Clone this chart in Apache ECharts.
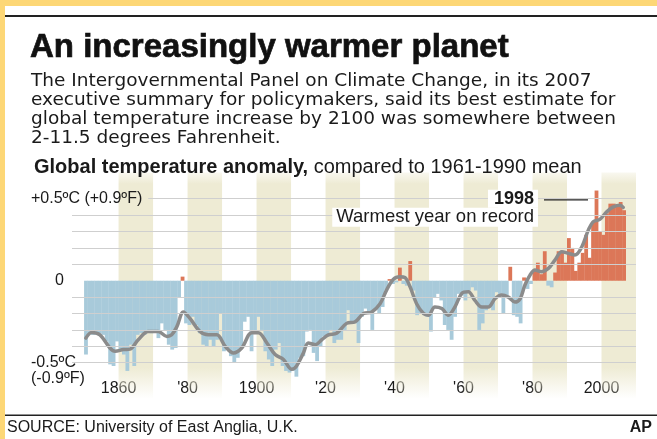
<!DOCTYPE html>
<html>
<head>
<meta charset="utf-8">
<script src="https://cdn.jsdelivr.net/npm/echarts@6/dist/echarts.min.js"></script>
<style>
  html, body { margin: 0; padding: 0; background: #ffffff; }
  #chart { width: 657px; height: 439px; }
</style>
</head>
<body>
<div id="chart"></div>
<script>
// Annual global temperature anomaly (°C vs 1961-1990 mean), one value per year from FIRST_YEAR
const FIRST_YEAR = 1850;
const anomalies = [
  -0.45, -0.32, -0.33, -0.33, -0.32, -0.33, -0.37, -0.51, -0.52, -0.37, // 1850s
  -0.43, -0.45, -0.55, -0.39, -0.52, -0.33, -0.32, -0.33, -0.31, -0.32, // 1860s
  -0.31, -0.35, -0.26, -0.30, -0.39, -0.42, -0.41, -0.10, 0.025, -0.26, // 1870s
  -0.27, -0.22, -0.27, -0.32, -0.39, -0.40, -0.36, -0.40, -0.36, -0.20, // 1880s
  -0.43, -0.42, -0.46, -0.50, -0.47, -0.41, -0.25, -0.22, -0.43, -0.32, // 1890s
  -0.22, -0.30, -0.43, -0.48, -0.52, -0.42, -0.38, -0.52, -0.55, -0.56, // 1900s
  -0.55, -0.585, -0.47, -0.46, -0.31, -0.30, -0.44, -0.49, -0.40, -0.34, // 1910s
  -0.34, -0.30, -0.38, -0.36, -0.36, -0.30, -0.18, -0.26, -0.26, -0.38, // 1920s
  -0.22, -0.17, -0.20, -0.30, -0.17, -0.20, -0.16, -0.06, 0.01, -0.02, // 1930s
  -0.01, 0.08, -0.02, -0.03, 0.12, -0.06, -0.21, -0.20, -0.21, -0.22, // 1940s
  -0.31, -0.10, -0.08, -0.12, -0.27, -0.30, -0.36, -0.22, -0.08, -0.09, // 1950s
  -0.12, -0.06, -0.04, -0.06, -0.30, -0.26, -0.18, -0.16, -0.18, -0.07, // 1960s
  -0.08, -0.20, -0.09, 0.085, -0.21, -0.22, -0.26, 0.02, -0.05, -0.02, // 1970s
  0.06, 0.11, 0.04, 0.18, -0.03, -0.04, 0.05, 0.18, 0.18, 0.11,      // 1980s
  0.26, 0.20, 0.06, 0.11, 0.17, 0.28, 0.14, 0.36, 0.55, 0.30,        // 1990s
  0.28, 0.41, 0.47, 0.47, 0.45, 0.48, 0.43                            // 2000s
];

// Smoothed trend curve
const smoothYears = [
  1850.5, 1852.2, 1854.6, 1857.5, 1859.0, 1861.4, 1863.3, 1865.7, 1868.6, 1871.5,
  1874.0, 1875.4, 1876.9, 1878.8, 1880.7, 1883.6, 1886.0, 1888.5, 1890.9, 1893.3,
  1895.7, 1898.6, 1900.5, 1903.0, 1905.4, 1907.8, 1910.2, 1911.6, 1913.6, 1915.0,
  1917.0, 1918.9, 1920.8, 1923.2, 1926.1, 1928.6, 1931.0, 1933.4, 1935.8, 1937.7,
  1939.6, 1941.6, 1943.0, 1944.5, 1946.4, 1948.4, 1949.8, 1951.7, 1953.7, 1955.6,
  1957.5, 1959.5, 1961.4, 1963.3, 1965.3, 1967.2, 1969.1, 1971.0, 1973.0, 1974.9,
  1976.4, 1977.8, 1979.3, 1980.7, 1982.6, 1984.6, 1986.5, 1988.5, 1990.4, 1992.3,
  1994.3, 1996.2, 1997.6, 1999.5, 2001.5, 2003.4, 2005.4, 2006.3
];
const smoothValues = [
  -0.35, -0.315, -0.33, -0.41, -0.43, -0.42, -0.417, -0.36, -0.31, -0.31,
  -0.34, -0.33, -0.28, -0.19, -0.23, -0.31, -0.33, -0.33, -0.40, -0.44,
  -0.41, -0.317, -0.317, -0.38, -0.45, -0.48, -0.54, -0.52, -0.44, -0.38,
  -0.39, -0.36, -0.33, -0.32, -0.26, -0.25, -0.20, -0.19, -0.14, -0.057,
  0.008, 0.024, 0.02, -0.037, -0.14, -0.20, -0.21, -0.16, -0.17, -0.21,
  -0.16, -0.077, -0.067, -0.12, -0.16, -0.16, -0.11, -0.087, -0.10, -0.13,
  -0.11, -0.026, 0.035, 0.065, 0.055, 0.075, 0.126, 0.177, 0.167, 0.157,
  0.207, 0.31, 0.36, 0.374, 0.42, 0.45, 0.46, 0.447
];

// Shaded alternate decades
const decadeBands = [[1860, 1870], [1880, 1890], [1900, 1910], [1920, 1930],
                     [1940, 1950], [1960, 1970], [1980, 1990], [2000, 2010]];

// Axis ticks and labels
const xTickYears = [1860, 1880, 1900, 1920, 1940, 1960, 1980, 2000];
const xTickLabels = ['1860', "'80", '1900', "'20", "'40", "'60", "'80", '2000'];
const gridValues = [-0.5, -0.4, -0.3, -0.2, -0.1, 0.1, 0.2, 0.3, 0.4, 0.5];
const yLabelValues = [0.5, 0, -0.5];
const yLabelTexts = ['+0.5ºC (+0.9ºF)', '0', '-0.5ºC\n(-0.9ºF)'];

const X_MIN = 1846.5, X_MAX = 2010;
const Y_MIN = -0.72, Y_MAX = 0.66;

const BLUE = '#a8cada';
const ORANGE = '#dc7758';
const BAND = '#eeebd4';
const GRID = '#cfcfcf';
const SANS = '"Liberation Sans", Arial, Helvetica, sans-serif';

const chart = echarts.init(document.getElementById('chart'), null, { renderer: 'canvas' });

const barData = anomalies.map((v, i) => [FIRST_YEAR + i, v]);
const smoothData = smoothYears.map((y, i) => [y, smoothValues[i]]);

const bandGradient = new echarts.graphic.LinearGradient(0, 0, 0, 1, [
  { offset: 0, color: 'rgba(238,235,212,0.35)' },
  { offset: 0.05, color: BAND },
  { offset: 0.86, color: BAND },
  { offset: 1, color: 'rgba(238,235,212,0)' }
]);

const option = {
  backgroundColor: '#ffffff',
  animation: false,
  grid: { left: 72, right: 21, top: 172.5, height: 226.3, containLabel: false },
  xAxis: {
    type: 'value', min: X_MIN, max: X_MAX,
    axisLine: { show: false }, axisTick: { show: false }, splitLine: { show: false },
    axisLabel: {
      customValues: xTickYears,
      margin: -10,
      verticalAlign: 'middle',
      color: '#1a1a1a',
      fontFamily: SANS,
      fontSize: 16,
      formatter: v => xTickLabels[xTickYears.indexOf(v)]
    }
  },
  yAxis: {
    type: 'value', min: Y_MIN, max: Y_MAX,
    axisLine: { show: false }, axisTick: { show: false },
    axisLabel: { show: false }, splitLine: { show: false }
  },
  series: [
    {
      // decade shading and light grid lines
      type: 'line', data: [], z: 1, silent: true,
      markArea: {
        silent: true,
        itemStyle: { color: bandGradient },
        data: decadeBands.map(b => [{ coord: [b[0], Y_MAX] }, { coord: [b[1], Y_MIN] }])
      },
      markLine: {
        silent: true, symbol: 'none',
        label: { show: false },
        lineStyle: { color: GRID, width: 1, type: 'solid' },
        data: gridValues.map(v => [
          { coord: [v === 0.5 ? 1868.6 : X_MIN, v] },
          { coord: [X_MAX, v] }
        ])
      }
    },
    {
      // annual anomaly bars
      type: 'custom', z: 2, silent: true,
      data: barData,
      renderItem: function (params, api) {
        const yr = api.value(0), v = api.value(1);
        const p0 = api.coord([yr, 0]);
        const p1 = api.coord([yr + 1, v]);
        return {
          type: 'rect',
          shape: {
            x: p0[0], y: Math.min(p0[1], p1[1]),
            width: p1[0] - p0[0] + 0.35, height: Math.abs(p1[1] - p0[1])
          },
          style: { fill: v >= 0 ? ORANGE : BLUE }
        };
      }
    },
    {
      // zero baseline
      type: 'line', data: [], z: 3, silent: true,
      markLine: {
        silent: true, symbol: 'none', label: { show: false },
        lineStyle: { color: '#111111', width: 1.3, type: 'solid' },
        data: [[{ coord: [X_MIN - 0.6, 0] }, { coord: [X_MAX + 0.5, 0] }]]
      }
    },
    {
      // smoothed trend
      type: 'line', z: 4, silent: true,
      data: smoothData, smooth: 0.35, showSymbol: false, symbol: 'none',
      lineStyle: { color: '#8b8b8b', width: 3.5, cap: 'round', join: 'round' }
    }
  ]
};
chart.setOption(option);

// Text, rules and frame
const yPix = v => chart.convertToPixel({ yAxisIndex: 0 }, v);
const textStyle = (extra) => Object.assign({ fill: '#1a1a1a', fontFamily: SANS, fontSize: 16, verticalAlign: 'middle' }, extra);
const TOP_Z = 100;

const graphics = [
  { type: 'rect', shape: { x: 0, y: 0, width: 657, height: 6 }, style: { fill: '#fdd776' }, silent: true },
  { type: 'rect', shape: { x: 0, y: 0, width: 5, height: 439 }, style: { fill: '#fdd776' }, silent: true },
  { type: 'rect', shape: { x: 5, y: 15, width: 652, height: 2 }, style: { fill: '#222222' }, silent: true },
  { type: 'rect', shape: { x: 5, y: 414.5, width: 652, height: 1.5 }, style: { fill: '#222222' }, silent: true },
  {
    type: 'text', x: 30, y: 48, silent: true, z: TOP_Z,
    style: textStyle({ text: 'An increasingly warmer planet', fontFamily: SANS, fontWeight: 'bold', fontSize: 33, fill: '#111111', stroke: '#111111', lineWidth: 0.7 })
  },
  {
    type: 'text', x: 31, y: 72, silent: true, z: TOP_Z,
    style: textStyle({
      text: 'The Intergovernmental Panel on Climate Change, in its 2007\nexecutive summary for policymakers, said its best estimate for\nglobal temperature increase by 2100 was somewhere between\n2-11.5 degrees Fahrenheit.',
      fontFamily: '"DejaVu Sans", Verdana, sans-serif', fontSize: 18.5, lineHeight: 19, verticalAlign: 'top'
    })
  },
  {
    type: 'text', x: 34, y: 167, silent: true, z: TOP_Z,
    style: textStyle({
      text: '{b|Global temperature anomaly,} compared to 1961-1990 mean',
      fontSize: 20,
      rich: { b: { fontWeight: 'bold', fontFamily: SANS, fontSize: 20, fill: '#1a1a1a' } }
    })
  },
  // 1998 callout
  {
    type: 'text', x: 538, y: yPix(0.5), silent: true, z: TOP_Z,
    style: textStyle({ text: '1998', fontWeight: 'bold', fontSize: 18, align: 'right', backgroundColor: '#ffffff', padding: [0, 4, 0, 6] })
  },
  { type: 'rect', z: TOP_Z, shape: { x: 544, y: yPix(0.5) + 0.5, width: 44, height: 1.2 }, style: { fill: '#222222' }, silent: true },
  {
    type: 'text', x: 538, y: yPix(0.4) + 2, silent: true, z: TOP_Z,
    style: textStyle({ text: 'Warmest year on record', fontSize: 18.5, align: 'right', backgroundColor: '#ffffff', padding: [0, 4, 0, 4] })
  },
  // source line
  { type: 'text', x: 7, y: 428, silent: true, z: TOP_Z, style: textStyle({ text: 'SOURCE: University of East Anglia, U.K.', fontSize: 16 }) },
  { type: 'text', x: 652, y: 428, silent: true, z: TOP_Z, style: textStyle({ text: 'AP', fontSize: 16, align: 'right', fontWeight: 'bold' }) }
];

// Y-axis labels placed at their values on the axis scale
yLabelValues.forEach((v, i) => {
  const y = yPix(v);
  if (v > 0) {
    graphics.push({ type: 'text', x: 31, y: y, silent: true, z: TOP_Z, style: textStyle({ text: yLabelTexts[i] }) });
  } else if (v === 0) {
    graphics.push({ type: 'text', x: 64, y: y, silent: true, z: TOP_Z, style: textStyle({ text: yLabelTexts[i], align: 'right' }) });
  } else {
    graphics.push({ type: 'text', x: 31, y: y - 8, silent: true, z: TOP_Z, style: textStyle({ text: yLabelTexts[i], verticalAlign: 'top', lineHeight: 16 }) });
  }
});

chart.setOption({ graphic: graphics });
</script>
</body>
</html>
